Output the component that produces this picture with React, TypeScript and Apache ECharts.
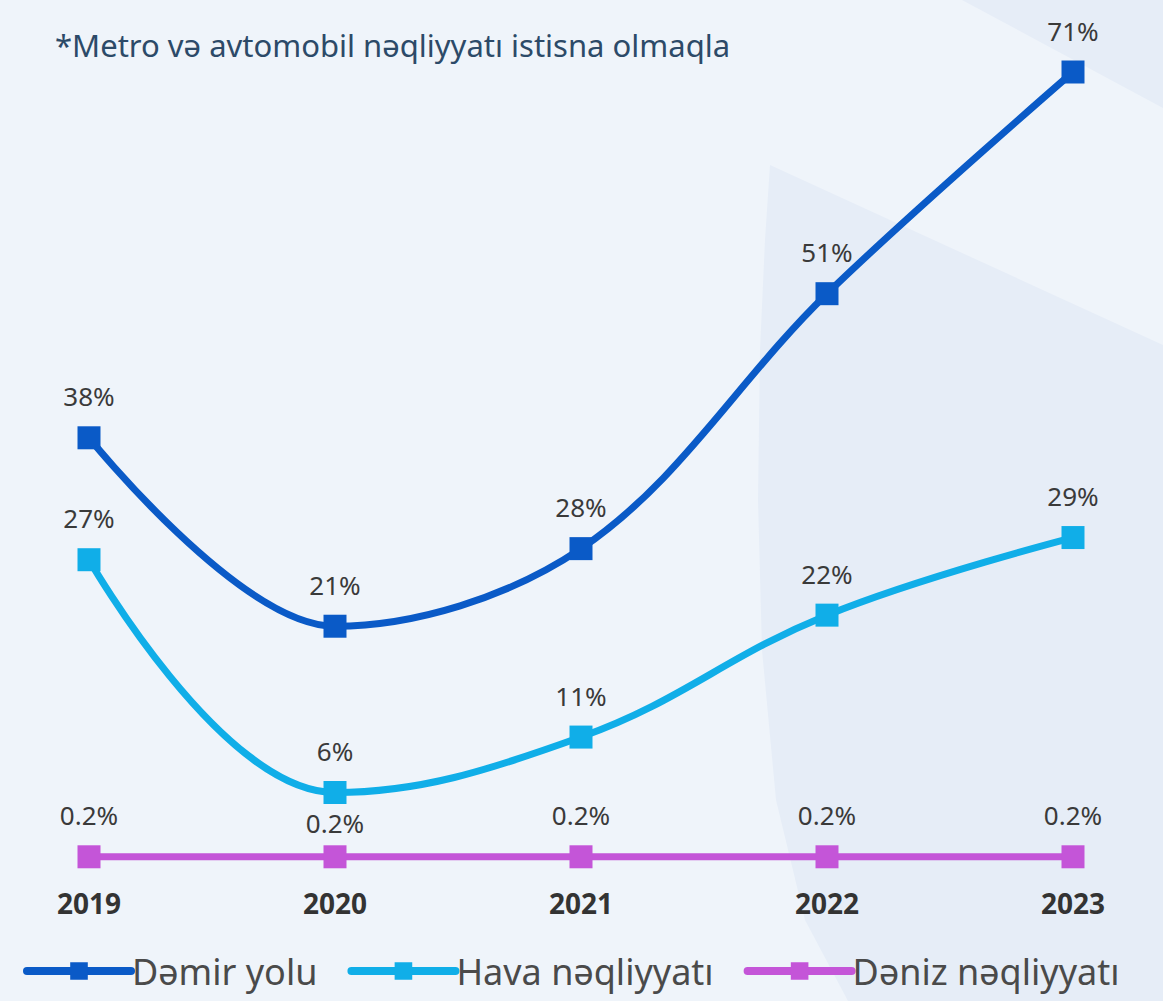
import React, { useEffect, useRef } from "react";
import * as echarts from "echarts";

const years = ["2019", "2020", "2021", "2022", "2023"];
const railway = [38, 21, 28, 51, 71];
const air = [27, 6, 11, 22, 29];
const sea = [0.2, 0.2, 0.2, 0.2, 0.2];
const seriesNames = ["Dəmir yolu", "Hava nəqliyyatı", "Dəniz nəqliyyatı"];
const note = "*Metro və avtomobil nəqliyyatı istisna olmaqla";

const FONT = "'Noto Sans', sans-serif";

export default function App() {
  const ref = useRef<HTMLDivElement>(null);
  useEffect(() => {
    if (!ref.current) return;
    const chart = echarts.init(ref.current, null, { renderer: "svg" });
    const label = (fmt: (v: number) => string) => ({
      show: true,
      position: "top",
      distance: 17,
      fontSize: 26,
      fontFamily: FONT,
      color: "#3a3a3a",
      formatter: (p: any) => fmt(p.value),
    });
    const pct = (v: number) => `${v}%`;
    chart.setOption({
      animation: false,
      backgroundColor: "#eff4fa",
      textStyle: { fontFamily: FONT },
      graphic: [
        {
          type: "polygon",
          silent: true,
          z: -10,
          shape: { points: [[962, 0], [1163, 0], [1163, 108]] },
          style: { fill: "#e6edf7" },
        },
        {
          type: "polygon",
          silent: true,
          z: -10,
          shape: {
            points: [
              [770, 165], [1163, 345], [1163, 1001], [848, 1001], [805, 920],
              [776, 800], [762, 650], [758, 500], [760, 350], [765, 240],
            ],
          },
          style: { fill: "#e6edf7" },
        },
        {
          type: "text",
          left: 55,
          top: 29,
          style: { text: note, fontSize: 31, fontFamily: FONT, fill: "#2c4a68" },
        },
      ],
      grid: { left: 89, right: 90, top: 72, bottom: 142 },
      legend: {
        bottom: 7,
        left: 18,
        itemWidth: 104,
        itemHeight: 22,
        itemGap: 30,
        lineStyle: { width: 8, cap: "round" },
        textStyle: { fontSize: 36, fontFamily: FONT, color: "#4a4a4a", padding: [0, 0, 0, -4] },
        data: seriesNames,
      },
      xAxis: {
        type: "category",
        data: years,
        boundaryGap: false,
        axisLine: { show: false },
        axisTick: { show: false },
        axisLabel: { fontSize: 28, fontWeight: "bold", color: "#333333", margin: 30, fontFamily: FONT },
        splitLine: { show: false },
      },
      yAxis: { type: "value", min: 0, max: 71, show: false, splitLine: { show: false } },
      series: [
        {
          name: seriesNames[2],
          type: "line",
          data: sea.map((v, i) => (i === 1 ? { value: v, label: { distance: 9 } } : v)),
          symbol: "rect",
          symbolSize: 23,
          color: "#c455d8",
          lineStyle: { width: 7, color: "#c455d8" },
          itemStyle: { color: "#c455d8" },
          label: label(pct),
          z: 2,
        },
        {
          name: seriesNames[1],
          type: "line",
          data: air,
          smooth: 0.4,
          symbol: "rect",
          symbolSize: 23,
          color: "#10aee8",
          lineStyle: { width: 7, color: "#10aee8" },
          itemStyle: { color: "#10aee8" },
          label: label(pct),
          z: 3,
        },
        {
          name: seriesNames[0],
          type: "line",
          data: railway,
          smooth: 0.35,
          symbol: "rect",
          symbolSize: 23,
          color: "#0a5ac7",
          lineStyle: { width: 7, color: "#0a5ac7" },
          itemStyle: { color: "#0a5ac7" },
          label: label(pct),
          z: 4,
        },
      ],
    });
    return () => chart.dispose();
  }, []);
  return <div ref={ref} style={{ width: 1163, height: 1001, position: "absolute", left: 0, top: 0 }} />;
}
